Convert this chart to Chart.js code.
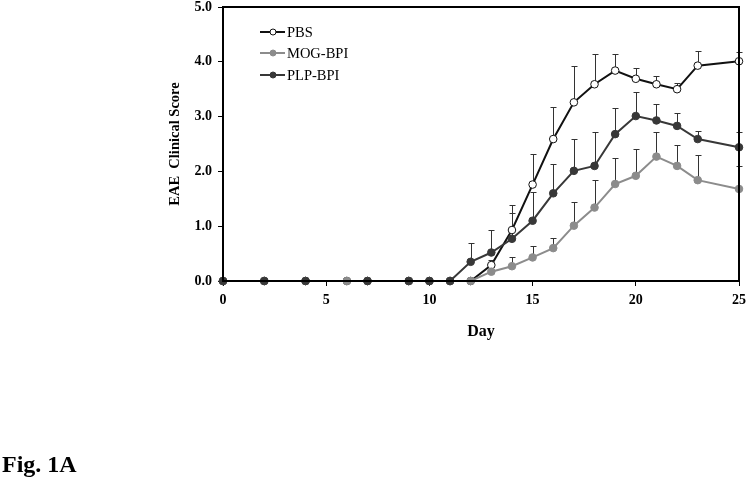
<!DOCTYPE html>
<html>
<head>
<meta charset="utf-8">
<script src="https://cdn.jsdelivr.net/npm/chart.js@4.4.1/dist/chart.umd.min.js"></script>
<style>
	html, body { margin: 0; padding: 0; background: #fff; }
	#wrap { position: relative; width: 750px; height: 484px; }
	#fig { position: absolute; left: 2px; top: 451px; font: bold 24px "Liberation Serif", "Times New Roman", serif; color: #000; }
</style>
</head>
<body>
<div id="wrap">
	<canvas id="chart" width="750" height="484"></canvas>
	<div id="fig">Fig. 1A</div>
</div>
<script>
// days measured
const days = [0, 2, 4, 6, 7, 9, 10, 11, 12, 13, 14, 15, 16, 17, 18, 19, 20, 21, 22, 23, 25];

const pbs = [0, 0, 0, 0, 0, 0, 0, 0, 0, 0.29, 0.93, 1.76, 2.59, 3.26, 3.59, 3.84, 3.69, 3.59, 3.50, 3.93, 4.01];
const pbsErr = [0, 0, 0, 0, 0, 0, 0, 0, 0, 0.10, 0.46, 0.55, 0.58, 0.66, 0.55, 0.30, 0.19, 0.15, 0.12, 0.27, 0.17];

const mog = [0, 0, 0, 0, 0, 0, 0, 0, 0, 0.17, 0.27, 0.43, 0.60, 1.01, 1.34, 1.77, 1.92, 2.27, 2.10, 1.84, 1.68];
const mogErr = [0, 0, 0, 0, 0, 0, 0, 0, 0, 0, 0.16, 0.20, 0.19, 0.44, 0.50, 0.47, 0.48, 0.45, 0.39, 0.46, 0.41];

const plp = [0, 0, 0, null, 0, 0, 0, 0, 0.35, 0.52, 0.77, 1.10, 1.60, 2.01, 2.10, 2.68, 3.01, 2.93, 2.83, 2.59, 2.44];
const plpErr = [0, 0, 0, 0, 0, 0, 0, 0, 0.34, 0.41, 0.47, 0.53, 0.53, 0.58, 0.61, 0.48, 0.44, 0.30, 0.24, 0.15, 0.28];

const xTicks = [0, 5, 10, 15, 20, 25];
const yTicks = [0, 1, 2, 3, 4, 5];

const serif = '"Liberation Serif", "Times New Roman", serif';

function toPoints(vals) {
	return days.map((d, i) => ({ x: d, y: vals[i] }));
}

const series = [
	{ label: 'PBS', vals: pbs, err: pbsErr, line: '#111', fill: '#fff', order: 2 },
	{ label: 'MOG-BPI', vals: mog, err: mogErr, line: '#8c8c8c', fill: '#8c8c8c', order: 1 },
	{ label: 'PLP-BPI', vals: plp, err: plpErr, line: '#383838', fill: '#383838', order: 0 },
];

// vertical error bars (upper only)
const errorBars = {
	id: 'errorBars',
	beforeDatasetsDraw(chart) {
		const ctx = chart.ctx;
		const yScale = chart.scales.y;
		ctx.save();
		ctx.strokeStyle = '#333';
		ctx.lineWidth = 1;
		series.forEach((s, i) => {
			const meta = chart.getDatasetMeta(i);
			meta.data.forEach((pt, j) => {
				const v = s.vals[j];
				const e = s.err[j];
				if (v == null || !e) return;
				const x = Math.round(pt.x) + 0.5;
				const top = Math.round(yScale.getPixelForValue(v + e)) + 0.5;
				ctx.beginPath();
				ctx.moveTo(x, pt.y);
				ctx.lineTo(x, top);
				ctx.moveTo(x - 3, top);
				ctx.lineTo(x + 3, top);
				ctx.stroke();
			});
		});
		ctx.restore();
	}
};

// frame + legend
const frameLegend = {
	id: 'frameLegend',
	afterDraw(chart) {
		const ctx = chart.ctx;
		const a = chart.chartArea;
		ctx.save();
		ctx.strokeStyle = '#000';
		ctx.lineWidth = 2;
		ctx.strokeRect(a.left, a.top, a.right - a.left, a.bottom - a.top);

		const rows = [32, 53, 75];
		ctx.font = '14.5px ' + serif;
		ctx.textBaseline = 'middle';
		ctx.textAlign = 'left';
		series.forEach((s, i) => {
			const y = rows[i];
			ctx.strokeStyle = s.line;
			ctx.lineWidth = 2;
			ctx.beginPath();
			ctx.moveTo(260, y);
			ctx.lineTo(285, y);
			ctx.stroke();
			ctx.beginPath();
			ctx.arc(273, y, 3, 0, Math.PI * 2);
			ctx.fillStyle = s.fill;
			ctx.fill();
			ctx.lineWidth = 1;
			ctx.stroke();
			ctx.fillStyle = '#000';
			ctx.fillText(s.label, 287, y + 1);
		});
		ctx.restore();
	}
};

new Chart(document.getElementById('chart'), {
	type: 'line',
	data: {
		datasets: series.map(s => ({
			label: s.label,
			data: toPoints(s.vals),
			borderColor: s.line,
			backgroundColor: s.fill,
			pointBackgroundColor: s.fill,
			pointBorderColor: s.line,
			pointBorderWidth: 1,
			pointRadius: 3.8,
			borderWidth: 2,
			tension: 0,
			spanGaps: true,
			clip: false,
			order: s.order,
		})),
	},
	options: {
		responsive: false,
		animation: false,
		layout: { padding: { left: 163, right: 11, top: 7, bottom: 139 } },
		plugins: {
			legend: { display: false },
			tooltip: { enabled: false },
		},
		scales: {
			x: {
				type: 'linear',
				min: 0,
				max: 25,
				afterFit: s => { s.height = 64; s.paddingLeft = 0; s.paddingRight = 0; },
				afterBuildTicks: s => { s.ticks = xTicks.map(v => ({ value: v })); },
				ticks: { color: '#000', font: { family: serif, size: 14, weight: 'bold' }, padding: 6, maxRotation: 0 },
				grid: { display: true, drawOnChartArea: false, drawTicks: true, tickLength: 5, color: '#000' },
				border: { display: true, color: '#000', width: 2 },
				title: { display: true, text: 'Day', color: '#000', font: { family: serif, size: 16, weight: 'bold' } },
			},
			y: {
				min: 0,
				max: 5,
				afterFit: s => { s.width = 60; s.paddingTop = 0; s.paddingBottom = 0; },
				afterBuildTicks: s => { s.ticks = yTicks.map(v => ({ value: v })); },
				ticks: { color: '#000', font: { family: serif, size: 14, weight: 'bold' }, padding: 6, callback: v => v.toFixed(1) },
				grid: { display: true, drawOnChartArea: false, drawTicks: true, tickLength: 5, color: '#000' },
				border: { display: true, color: '#000', width: 2 },
				title: { display: true, text: 'EAE  Clinical Score', color: '#000', font: { family: serif, size: 14.5, weight: 'bold' } },
			},
		},
	},
	plugins: [errorBars, frameLegend],
});
</script>
</body>
</html>
